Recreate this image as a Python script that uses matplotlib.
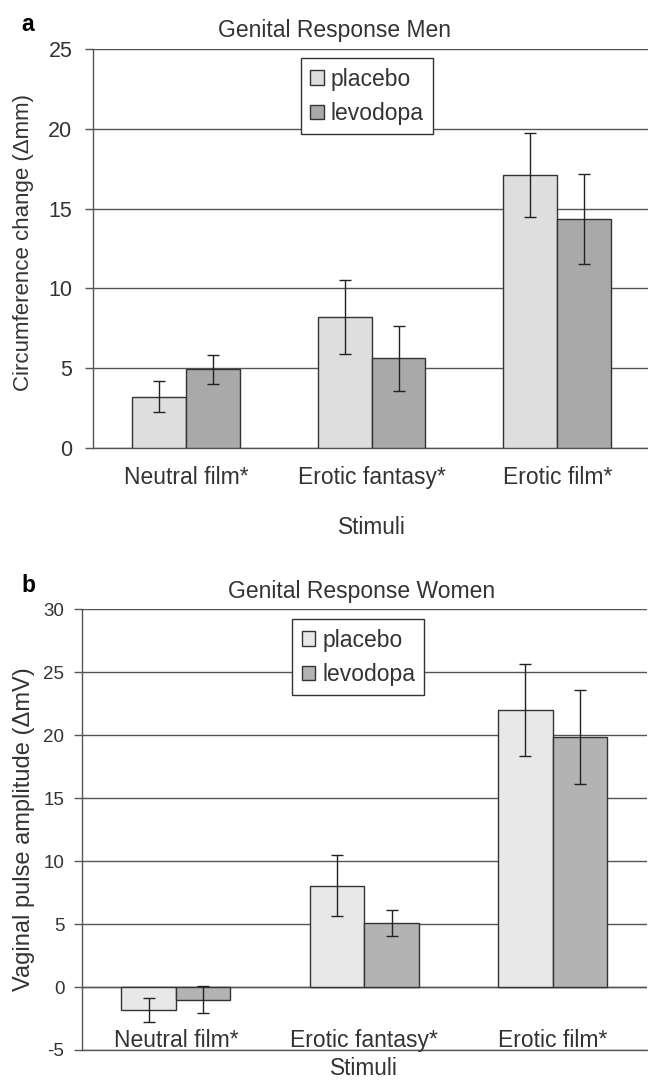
import matplotlib
matplotlib.use('Agg')
import matplotlib.pyplot as plt
import numpy as np

plt.rcParams['font.family'] = ['Liberation Sans', 'DejaVu Sans']
plt.rcParams['text.color'] = '#333333'
plt.rcParams['axes.labelcolor'] = '#333333'
plt.rcParams['axes.unicode_minus'] = False

# --- data ---
stimuli = ['Neutral film*', 'Erotic fantasy*', 'Erotic film*']

men_placebo = [3.2, 8.2, 17.1]
men_placebo_err = [1.0, 2.3, 2.65]
men_levodopa = [4.9, 5.6, 14.35]
men_levodopa_err = [0.9, 2.05, 2.85]

women_placebo = [-1.8, 8.05, 22.0]
women_placebo_err = [0.95, 2.4, 3.67]
women_levodopa = [-1.0, 5.1, 19.85]
women_levodopa_err = [1.05, 1.02, 3.72]

W, H = 648, 1081
EDGE = '#333333'
GRID = '#555555'


def fy(y):
    return 1 - y / H


fig = plt.figure(figsize=(W / 100, H / 100), dpi=100)
ax_a = fig.add_axes([93.3 / W, fy(447.5), 556.7 / W, 398.2 / H])
ax_b = fig.add_axes([81.7 / W, fy(1050), 565 / W, 440.7 / H])

x = np.arange(len(stimuli))
bw = 0.29


def draw_panel(ax, plac, plac_err, levo, levo_err, c_plac, c_levo):
    err_kw = dict(ecolor='#222222', elinewidth=1.0, capsize=4, capthick=1.0)
    ax.bar(x - bw / 2, plac, bw, yerr=plac_err, color=c_plac, edgecolor=EDGE,
           linewidth=1.0, label='placebo', error_kw=err_kw, zorder=3)
    ax.bar(x + bw / 2, levo, bw, yerr=levo_err, color=c_levo, edgecolor=EDGE,
           linewidth=1.0, label='levodopa', error_kw=err_kw, zorder=3)
    ax.set_xlim(-0.5, 2.5)
    ax.yaxis.grid(True, color=GRID, linewidth=1.0, zorder=1)
    ax.set_axisbelow(True)
    for s in ['top', 'right']:
        ax.spines[s].set_visible(False)
    for s in ['left', 'bottom']:
        ax.spines[s].set_color(GRID)
        ax.spines[s].set_linewidth(1.0)
    leg = ax.legend(loc='upper left', bbox_to_anchor=(0.373, 0.977), borderaxespad=0,
                    fancybox=False, edgecolor=EDGE, framealpha=1, fontsize=16.5,
                    handlelength=0.6, handleheight=0.6, handletextpad=0.3,
                    labelspacing=0.5, borderpad=0.4)
    leg.get_frame().set_linewidth(1.0)
    for t in leg.get_texts():
        t.set_color('#333333')


# --- panel a: men ---
draw_panel(ax_a, men_placebo, men_placebo_err, men_levodopa, men_levodopa_err,
           '#dedede', '#a9a9a9')
ax_a.set_ylim(0, 25)
ax_a.set_yticks(range(0, 26, 5))
ax_a.tick_params(axis='y', direction='out', length=6, width=1.0, color=GRID,
                 pad=9, labelsize=15.5, labelcolor='#333333')
ax_a.set_xticks(x, stimuli)
ax_a.tick_params(axis='x', length=0, pad=13, labelsize=16.5, labelcolor='#333333')
ax_a.set_xlabel('Stimuli', fontsize=16.3, labelpad=20)
ax_a.set_title('Genital Response Men', fontsize=16.5, x=0.434, pad=9)

# --- panel b: women ---
draw_panel(ax_b, women_placebo, women_placebo_err, women_levodopa, women_levodopa_err,
           '#e8e8e8', '#b3b3b3')
ax_b.set_ylim(-5, 30)
ax_b.set_yticks(range(-5, 31, 5))
ax_b.axhline(0, color=GRID, linewidth=1.0, zorder=2)
ax_b.tick_params(axis='y', direction='out', length=6, width=1.0, color=GRID,
                 pad=6.5, labelsize=13.5, labelcolor='#333333')
ax_b.set_xticks([])
for xi, name in zip(x, stimuli):
    ax_b.text(xi, -4.75, name, ha='center', va='baseline', fontsize=16.5, zorder=4)
ax_b.set_xlabel('Stimuli', fontsize=16.3, labelpad=5)
ax_b.set_title('Genital Response Women', fontsize=16.5, x=0.496, pad=8)

# --- panel letters and y labels ---
fig.text(21 / W, fy(31), 'a', fontsize=16.5, fontweight='bold', color='black', va='baseline')
fig.text(21 / W, fy(592), 'b', fontsize=16.5, fontweight='bold', color='black', va='baseline')
fig.text(24 / W, fy(242.5), 'Circumference change (\u0394mm)', rotation=90,
         ha='center', va='center', fontsize=16)
fig.text(24 / W, fy(829.5), 'Vaginal pulse amplitude (\u0394mV)', rotation=90,
         ha='center', va='center', fontsize=17)

fig.savefig('out.png', dpi=100)
